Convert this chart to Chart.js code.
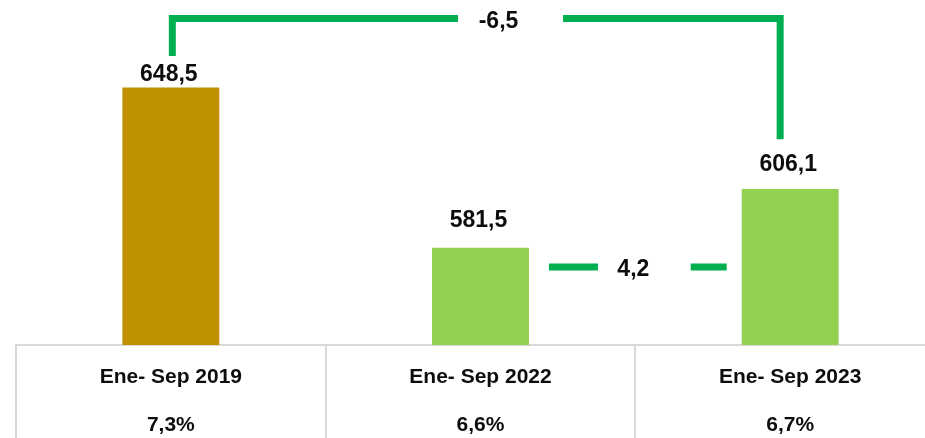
<!DOCTYPE html>
<html>
<head>
<meta charset="utf-8">
<script src="https://cdn.jsdelivr.net/npm/chart.js@4"></script>
<style>
  html, body { margin: 0; padding: 0; background: #fff; overflow: hidden; }
  #wrap { width: 945px; height: 438px; }
</style>
</head>
<body>
<div id="wrap"><canvas id="chart"></canvas></div>
<script>
const categories = ['Ene- Sep 2019', 'Ene- Sep 2022', 'Ene- Sep 2023'];
const values = [648.5, 581.5, 606.1];
const shares = [7.3, 6.6, 6.7];
const changes = [-6.5, 4.2];   // 2019 -> 2023, 2022 -> 2023

const barColors = ['#bf9000', '#92d050', '#92d050'];
const lineGreen = '#00b050';
const FONT = 'Liberation Sans, Arial, sans-serif';

function fmt(v) {
  return v.toFixed(1).replace('.', ',');
}

// value labels on top of the bars
const labelGap = [13, 27, 24];
const valueLabels = {
  id: 'valueLabels',
  afterDatasetsDraw(chart) {
    const ctx = chart.ctx;
    const meta = chart.getDatasetMeta(0);
    ctx.save();
    ctx.font = 'bold 23px ' + FONT;
    ctx.fillStyle = '#0d0d0d';
    ctx.textAlign = 'center';
    ctx.textBaseline = 'middle';
    meta.data.forEach(function(bar, i) {
      ctx.fillText(fmt(values[i]), bar.x - 2, bar.y - labelGap[i]);
    });
    ctx.restore();
  }
};

// green brackets with the % changes
const changeMarks = {
  id: 'changeMarks',
  afterDatasetsDraw(chart) {
    const ctx = chart.ctx;
    const bars = chart.getDatasetMeta(0).data;
    const top = chart.chartArea.top + 18.5;
    const x0 = bars[0].x + 1.5;
    const x2 = bars[2].x - 10;
    const mid = bars[1].x;

    ctx.save();
    ctx.strokeStyle = lineGreen;
    ctx.lineWidth = 7;
    ctx.lineCap = 'butt';
    ctx.lineJoin = 'miter';
    ctx.beginPath();
    ctx.moveTo(x0, bars[0].y - 31.5);
    ctx.lineTo(x0, top);
    ctx.lineTo(mid - 22.5, top);
    ctx.moveTo(mid + 82.5, top);
    ctx.lineTo(x2, top);
    ctx.lineTo(x2, bars[2].y - 49.6);
    ctx.stroke();

    const halfW = bars[1].width / 2;
    const dy = 267;
    const a = bars[1].x + halfW;
    const b = bars[2].x - halfW;
    ctx.beginPath();
    ctx.moveTo(a + 20, dy);
    ctx.lineTo(a + 69, dy);
    ctx.moveTo(b - 51, dy);
    ctx.lineTo(b - 15, dy);
    ctx.stroke();

    ctx.font = 'bold 23px ' + FONT;
    ctx.fillStyle = '#0d0d0d';
    ctx.textAlign = 'center';
    ctx.textBaseline = 'middle';
    ctx.fillText(fmt(changes[0]), mid + 18, 22);
    ctx.fillText(fmt(changes[1]), (a + b) / 2 - 2, 270);
    ctx.restore();
  }
};

new Chart(document.getElementById('chart').getContext('2d'), {
  type: 'bar',
  data: {
    labels: categories,
    datasets: [{
      data: values,
      backgroundColor: barColors,
      borderWidth: 0,
      barPercentage: 0.313,
      categoryPercentage: 1
    }]
  },
  options: {
    responsive: true,
    maintainAspectRatio: false,
    animation: false,
    layout: { padding: { left: 16, right: 0, top: 0, bottom: 0 } },
    plugins: {
      legend: { display: false },
      tooltip: { enabled: false }
    },
    scales: {
      x: {
        afterFit(scale) { scale.height = 93; },
        grid: {
          offset: true,
          drawOnChartArea: false,
          drawTicks: true,
          tickLength: 93,
          color: '#d9d9d9',
          lineWidth: 2
        },
        border: { display: true, color: '#d9d9d9', width: 2 },
        ticks: {
          padding: -85,
          color: '#0d0d0d',
          font: { family: FONT, size: 21, weight: 'bold', lineHeight: '48px' },
          maxRotation: 0,
          autoSkip: false,
          callback: function(value, index) {
            return [categories[index], fmt(shares[index]) + '%'];
          }
        }
      },
      y: {
        display: false,
        min: 540.8,
        max: 685.1
      }
    }
  },
  plugins: [valueLabels, changeMarks]
});
</script>
</body>
</html>
